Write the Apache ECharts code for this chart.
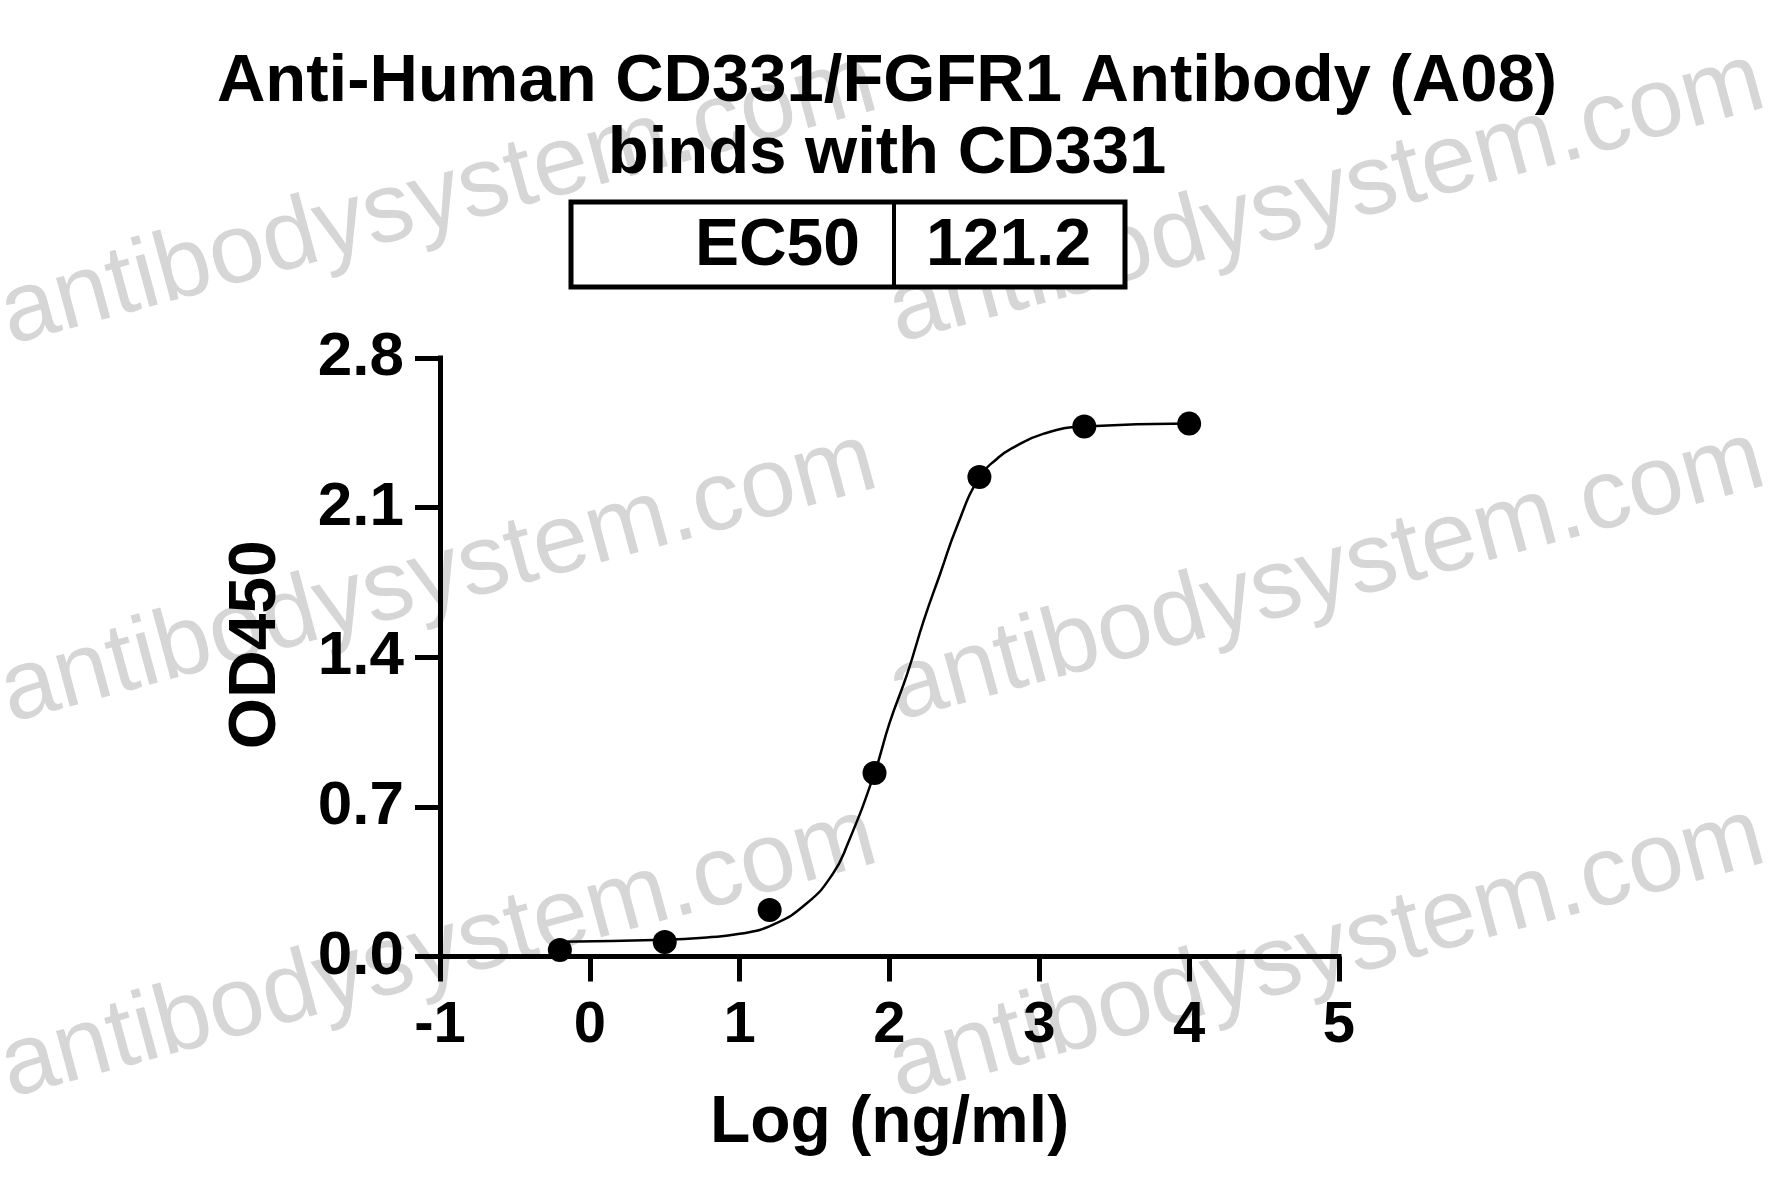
<!DOCTYPE html>
<html>
<head>
<meta charset="utf-8">
<script src="https://cdn.jsdelivr.net/npm/echarts@6/dist/echarts.min.js"></script>
<style>
html,body{margin:0;padding:0;background:#fff;}
#chart{width:1781px;height:1197px;}
</style>
</head>
<body>
<div id="chart"></div>
<script>
// ---- data ----
var titleLines = ['Anti-Human CD331/FGFR1 Antibody (A08)', 'binds with CD331'];
var ec50Label = 'EC50';
var ec50Value = '121.2';
var xAxisTitle = 'Log (ng/ml)';
var yAxisTitle = 'OD450';
var xTicks = [-1, 0, 1, 2, 3, 4, 5];
var yTicks = [0.0, 0.7, 1.4, 2.1, 2.8];
// measured points
var logConc = [-0.2, 0.5, 1.2, 1.9, 2.6, 3.3, 4.0];
var od450   = [0.030, 0.068, 0.218, 0.858, 2.243, 2.480, 2.493];
// fitted curve
var curveX = [-0.2, 0.5, 0.78, 1.0, 1.22, 1.45, 1.62, 1.72, 1.9, 2.0, 2.12, 2.23, 2.34, 2.45, 2.6, 2.72, 2.81, 3.03, 3.3, 4.0];
var curveY = [0.069, 0.078, 0.089, 0.106, 0.148, 0.250, 0.385, 0.525, 0.858, 1.092, 1.326, 1.575, 1.794, 2.012, 2.243, 2.330, 2.375, 2.446, 2.480, 2.493];
var watermark = 'antibodysystem.com';

var chart = echarts.init(document.getElementById('chart'), null, {renderer: 'canvas'});
var FONT = '"Liberation Sans", Arial, Helvetica, sans-serif';

var scatterData = logConc.map(function (x, i) { return [x, od450[i]]; });
var curveData = curveX.map(function (x, i) { return [x, curveY[i]]; });

// watermark positions (layout only)
var wmPos = [[16, 366], [904, 364], [16, 744], [904, 742], [16, 1119], [904, 1119]];
var graphics = wmPos.map(function (p) {
  return {
    type: 'text', x: p[0], y: p[1], rotation: 0.265, z: -10,
    style: { text: watermark, fill: '#d6d6d6', font: '99px ' + FONT,
             textAlign: 'left', textVerticalAlign: 'bottom' }
  };
});
// EC50 box
var boxL = 571, boxR = 1125, boxT = 202, boxB = 287, boxDiv = 894;
graphics.push({ type: 'rect', z: 10, shape: { x: boxL, y: boxT, width: boxR - boxL, height: boxB - boxT },
  style: { fill: '#fff', stroke: '#000', lineWidth: 5 } });
graphics.push({ type: 'line', z: 11, shape: { x1: boxDiv, y1: boxT, x2: boxDiv, y2: boxB },
  style: { stroke: '#000', lineWidth: 4 } });
graphics.push({ type: 'text', z: 12, x: 860, y: (boxT + boxB) / 2 + 2,
  style: { text: ec50Label, font: 'bold 66px ' + FONT, fill: '#000', textAlign: 'right', textVerticalAlign: 'middle' } });
graphics.push({ type: 'text', z: 12, x: 926, y: (boxT + boxB) / 2 + 2,
  style: { text: ec50Value, font: 'bold 66px ' + FONT, fill: '#000', textAlign: 'left', textVerticalAlign: 'middle' } });

var option = {
  backgroundColor: '#ffffff',
  animation: false,
  title: {
    text: titleLines.join('\n'),
    left: 882, top: 42, textAlign: 'center',
    textStyle: { fontFamily: FONT, fontWeight: 'bold', fontSize: 67, lineHeight: 72, color: '#000' }
  },
  graphic: graphics,
  grid: { left: 440, right: 442, top: 358, bottom: 240.5, containLabel: false },
  xAxis: {
    type: 'value', min: xTicks[0], max: xTicks[xTicks.length - 1], interval: 1,
    name: xAxisTitle, nameLocation: 'middle', nameGap: 134,
    nameTextStyle: { fontFamily: FONT, fontWeight: 'bold', fontSize: 66, color: '#000' },
    axisLine: { onZero: false, lineStyle: { color: '#000', width: 5, cap: 'square' } },
    axisTick: { show: true, length: 25, lineStyle: { color: '#000', width: 5 } },
    axisLabel: { margin: 40, fontFamily: FONT, fontWeight: 'bold', fontSize: 58, color: '#000',
      formatter: function (v) { var i = xTicks.indexOf(v); return i >= 0 ? String(xTicks[i]) : ''; } },
    splitLine: { show: false }
  },
  yAxis: {
    type: 'value', min: yTicks[0], max: yTicks[yTicks.length - 1], interval: 0.7,
    name: yAxisTitle, nameLocation: 'middle', nameGap: 150, nameRotate: 90,
    nameTextStyle: { fontFamily: FONT, fontWeight: 'bold', fontSize: 66, color: '#000', padding: [0, 0, 0, 25] },
    axisLine: { onZero: false, lineStyle: { color: '#000', width: 5, cap: 'square' } },
    axisTick: { show: true, length: 25, lineStyle: { color: '#000', width: 5 } },
    axisLabel: { margin: 36, fontFamily: FONT, fontWeight: 'bold', fontSize: 62, color: '#000',
      formatter: function (v) { return v.toFixed(1); } },
    splitLine: { show: false }
  },
  series: [
    {
      type: 'line', data: curveData, showSymbol: false, symbol: 'none',
      smooth: 0.5,
      lineStyle: { color: '#000', width: 2.5 }, z: 3
    },
    {
      type: 'scatter', data: scatterData, symbol: 'circle', symbolSize: 24,
      itemStyle: { color: '#000', opacity: 1 }, z: 4
    }
  ]
};
chart.setOption(option);
</script>
</body>
</html>
